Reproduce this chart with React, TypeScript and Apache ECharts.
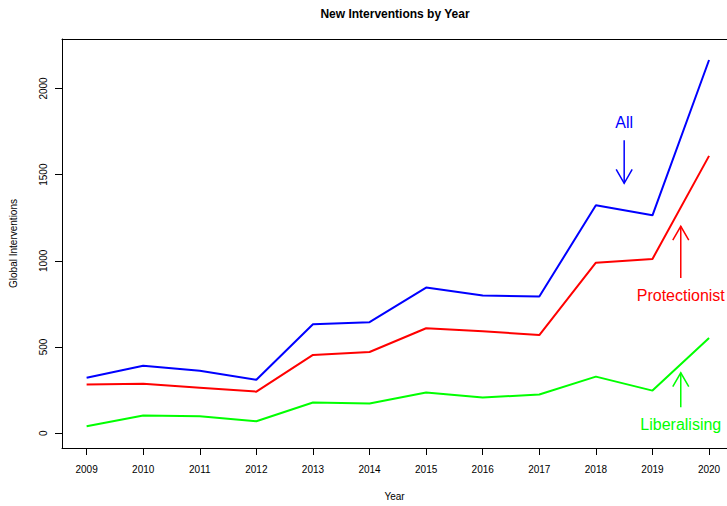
import React, { useEffect, useRef } from "react";
import * as echarts from "echarts";

const years = [2009, 2010, 2011, 2012, 2013, 2014, 2015, 2016, 2017, 2018, 2019, 2020];
const allValues = [322, 391, 362, 310, 632, 644, 845, 799, 793, 1322, 1264, 2165];
const protectionistValues = [282, 287, 264, 241, 454, 471, 609, 592, 569, 989, 1011, 1609];
const liberalisingValues = [40, 103, 98, 69, 178, 172, 236, 207, 224, 328, 247, 552];
const yTicks = [0, 500, 1000, 1500, 2000];

const annLabels = ["All", "Protectionist", "Liberalising"];
const annX = [2018.5, 2019.5, 2019.5];
const annTextY = [1800, 800, 50];
const arrowFromY = [1700, 900, 150];
const arrowToY = [1450, 1200, 350];
const annColors = ["#0000FF", "#FF0000", "#00FF00"];

const FONT = "'Liberation Sans', Arial, Helvetica, sans-serif";
const X_MIN = 2008.565;
const X_MAX = 2020.317;

export default function App() {
  const ref = useRef<HTMLDivElement>(null);
  useEffect(() => {
    document.body.style.margin = "0";
    const chart = echarts.init(ref.current!, null, { renderer: "svg" });
    const pairs = (vals: number[]) => years.map((y, i) => [y, vals[i]]);
    const option: any = {
      animation: false,
      backgroundColor: "#fff",
      textStyle: { fontFamily: FONT },
      title: {
        text: "New Interventions by Year",
        left: 390,
        textAlign: "center",
        top: 3,
        textStyle: { fontSize: 12, fontWeight: "bold", color: "#000", fontFamily: FONT },
      },
      grid: {
        left: 60,
        right: 0,
        top: 39,
        bottom: 53,
        show: false,
      },
      xAxis: [
        {
          type: "value",
          min: X_MIN,
          max: X_MAX,
          name: "Year",
          nameLocation: "middle",
          nameGap: 43,
          nameTextStyle: { fontSize: 10, color: "#000", fontFamily: FONT },
          axisLine: { show: true, onZero: false, lineStyle: { color: "#000", width: 1 } },
          axisTick: { show: true, length: 7, customValues: years, lineStyle: { color: "#000" } },
          axisLabel: {
            customValues: years,
            fontSize: 10,
            color: "#000",
            margin: 16,
            fontFamily: FONT,
            formatter: (v: number) => String(v),
          },
          splitLine: { show: false },
        },
        {
          type: "value",
          position: "top",
          min: X_MIN,
          max: X_MAX,
          axisLine: { show: true, onZero: false, lineStyle: { color: "#000", width: 1 } },
          axisTick: { show: false },
          axisLabel: { show: false },
          splitLine: { show: false },
        },
      ],
      yAxis: {
        type: "value",
        min: -86,
        max: 2287,
        name: "Global Interventions",
        nameLocation: "middle",
        nameGap: 44,
        nameTextStyle: { fontSize: 10, color: "#000", fontFamily: FONT },
        axisLine: { show: true, onZero: false, lineStyle: { color: "#000", width: 1 } },
        axisTick: { show: true, length: 7, customValues: yTicks, lineStyle: { color: "#000" } },
        axisLabel: {
          customValues: yTicks,
          rotate: 90,
          fontSize: 10,
          color: "#000",
          margin: 14,
          fontFamily: FONT,
          formatter: (v: number) => String(v),
        },
        splitLine: { show: false },
      },
      series: [
        {
          name: "All",
          type: "line",
          data: pairs(allValues),
          symbol: "none",
          lineStyle: { color: "#0000FF", width: 2 },
        },
        {
          name: "Protectionist",
          type: "line",
          data: pairs(protectionistValues),
          symbol: "none",
          lineStyle: { color: "#FF0000", width: 2 },
        },
        {
          name: "Liberalising",
          type: "line",
          data: pairs(liberalisingValues),
          symbol: "none",
          lineStyle: { color: "#00FF00", width: 2 },
        },
        {
          type: "custom",
          clip: false,
          silent: true,
          encode: { x: [0, 2], y: [1, 3] },
          data: annX.map((x, i) => [x, arrowFromY[i], x, arrowToY[i]]),
          renderItem: (params: any, api: any) => {
            const p0 = api.coord([api.value(0), api.value(1)]);
            const p1 = api.coord([api.value(2), api.value(3)]);
            const color = annColors[params.dataIndex];
            const ang = Math.atan2(p1[1] - p0[1], p1[0] - p0[0]);
            const L = 16;
            const a = Math.PI / 6;
            const h1 = [p1[0] - L * Math.cos(ang - a), p1[1] - L * Math.sin(ang - a)];
            const h2 = [p1[0] - L * Math.cos(ang + a), p1[1] - L * Math.sin(ang + a)];
            return {
              type: "group",
              children: [
                {
                  type: "line",
                  shape: { x1: p0[0], y1: p0[1], x2: p1[0], y2: p1[1] },
                  style: { stroke: color, lineWidth: 1.5 },
                },
                {
                  type: "polyline",
                  shape: { points: [h1, p1, h2] },
                  style: { stroke: color, fill: null, lineWidth: 1.5 },
                },
              ],
            };
          },
        },
        {
          type: "custom",
          clip: false,
          silent: true,
          encode: { x: 0, y: 1 },
          data: annX.map((x, i) => [x, annTextY[i]]),
          renderItem: (params: any, api: any) => {
            const p = api.coord([api.value(0), api.value(1)]);
            return {
              type: "text",
              x: p[0],
              y: p[1],
              style: {
                text: annLabels[params.dataIndex],
                fill: annColors[params.dataIndex],
                fontSize: 16,
                fontFamily: FONT,
                align: "center",
                verticalAlign: "middle",
              },
            };
          },
        },
      ],
    };
    chart.setOption(option);
    return () => chart.dispose();
  }, []);
  return <div ref={ref} style={{ width: 727, height: 506 }} />;
}
